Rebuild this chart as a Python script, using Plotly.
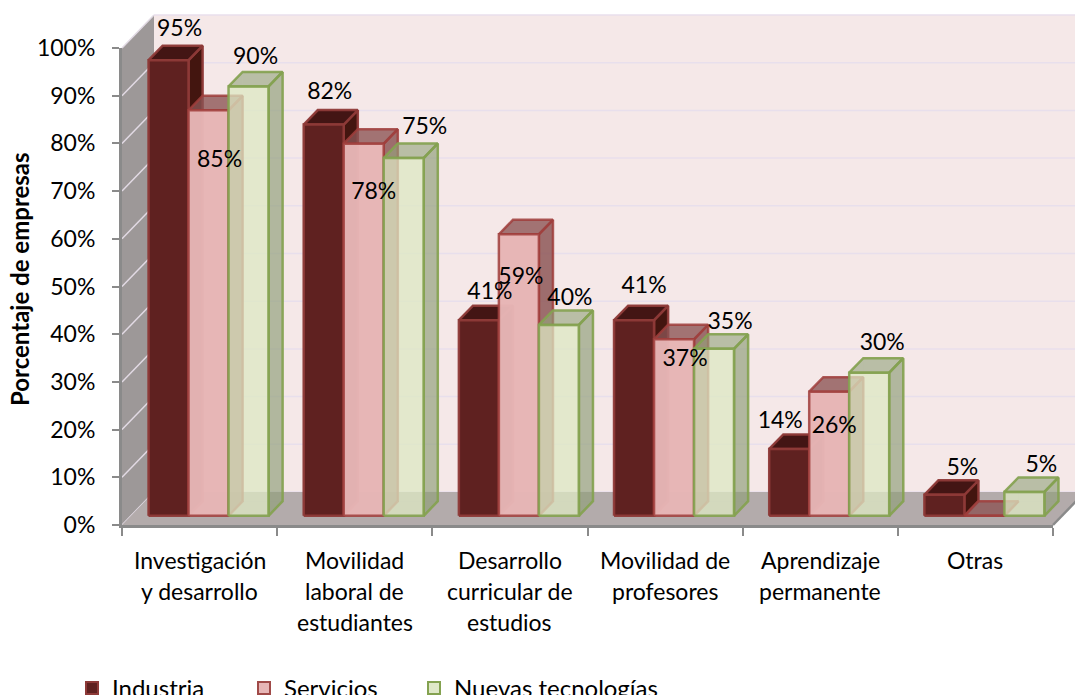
import plotly.graph_objects as go

# ---------- data ----------
categories = [
    ["Investigación", "y desarrollo"],
    ["Movilidad", "laboral de", "estudiantes"],
    ["Desarrollo", "curricular de", "estudios"],
    ["Movilidad de", "profesores"],
    ["Aprendizaje", "permanente"],
    ["Otras"],
]
series_names = ["Industria", "Servicios", "Nuevas tecnologías"]
industria = [95.5, 82, 41, 41, 14, 4.4]
servicios = [85, 78, 59, 37, 26, 0]
nuevas = [90, 75, 40, 35, 30, 5]
labels_industria = ["95%", "82%", "41%", "41%", "14%", "5%"]
labels_servicios = ["85%", "78%", "59%", "37%", "26%", ""]
labels_nuevas = ["90%", "75%", "40%", "35%", "30%", "5%"]
y_ticks = [0, 10, 20, 30, 40, 50, 60, 70, 80, 90, 100]

# ---------- geometry of the pseudo 3D projection ----------
W, H = 1075, 695
X0, X1, Y0, Y100 = 122, 1053, 525, 48
PX_X = (X1 - X0) / 6
PX_Y = (Y0 - Y100) / 100
DEPTH_X = 32 / PX_X
DEPTH_Y = 33 / PX_Y
BAR_W = 40 / PX_X
D_FRONT, D_BACK = 0.28, 0.72
FONT = "Lato"

# label nudges in pixels from the bar's front top centre
nudge_industria = [(11, -30), (6, -31), (11, -27), (10, -33), (-9, -27), (18, -26)]
nudge_servicios = [(11, 51), (10, 50), (2, 44), (11, 21), (5, 36), (0, 0)]
nudge_nuevas = [(7, -28), (21, -30), (11, -26), (16, -26), (13, -28), (17, -26)]
legend_left = [72, 244, 414]

styles = [
    dict(front="#5F2120", side="#43150F", top="#431514", back="#43150F",
         line="rgba(142,58,56,0.95)", marker="#5F2120", edge="#8E3A38"),
    dict(front="rgba(231,182,182,0.97)", side="rgba(140,85,85,0.78)", top="rgba(140,85,85,0.72)",
         back="rgba(140,85,85,0.25)", line="rgba(160,62,60,0.85)", marker="#E7B6B6", edge="#A04A48"),
    dict(front="rgba(226,236,200,0.62)", side="rgba(125,140,105,0.50)", top="rgba(125,140,105,0.42)",
         back="rgba(200,215,170,0.35)", line="rgba(132,162,80,0.92)", marker="#DFE8C8", edge="#84A250"),
]


def proj(x, v, d):
    return x + d * DEPTH_X, v + d * DEPTH_Y


def poly(points, fill, line=None, width=0):
    xs = [p[0] for p in points] + [points[0][0]]
    ys = [p[1] for p in points] + [points[0][1]]
    return go.Scatter(
        x=xs, y=ys, mode="lines", fill="toself", fillcolor=fill,
        line=dict(color=line or "rgba(0,0,0,0)", width=width),
        hoverinfo="skip", showlegend=False,
    )


def seg(p, q, color, width):
    return go.Scatter(
        x=[p[0], q[0]], y=[p[1], q[1]], mode="lines", line=dict(color=color, width=width),
        hoverinfo="skip", showlegend=False,
    )


fig = go.Figure()
XL, XR = -0.5, 5.5

# back wall
fig.add_trace(poly([proj(XL, 0, 1), proj(XR, 0, 1), proj(XR, 100, 1), proj(XL, 100, 1)], "#F5E8E8"))
# left wall
fig.add_trace(poly([proj(XL, 0, 0), proj(XL, 100, 0), proj(XL, 100, 1), proj(XL, 0, 1)], "#9D9898"))
# gridlines
for t in y_ticks:
    fig.add_trace(seg(proj(XL, t, 1), proj(XR, t, 1), "#E8DFEC", 1.5))
    fig.add_trace(seg(proj(XL, t, 0), proj(XL, t, 1), "#E2DAE4", 1.5))
# floor
fig.add_trace(poly([proj(XL, 0, 0), proj(XR, 0, 0), proj(XR, 0, 1), proj(XL, 0, 1)], "#B3ABAB"))
fig.add_trace(seg(proj(XR, 0, 0), proj(XR, 0, 1), "#8A8A8A", 2.5))

# bars
all_values = [industria, servicios, nuevas]
all_labels = [labels_industria, labels_servicios, labels_nuevas]
all_nudges = [nudge_industria, nudge_servicios, nudge_nuevas]
for i in range(len(categories)):
    for s, values in enumerate(all_values):
        v = values[i]
        st = styles[s]
        l = i - 1.5 * BAR_W + s * BAR_W
        r = l + BAR_W
        lw = 2.5
        a = proj
        # hidden faces first so that the translucent boxes show them
        fig.add_trace(poly([a(l, 0, D_BACK), a(r, 0, D_BACK), a(r, v, D_BACK), a(l, v, D_BACK)], st["back"]))
        fig.add_trace(poly([a(l, 0, D_FRONT), a(l, 0, D_BACK), a(l, v, D_BACK), a(l, v, D_FRONT)], st["back"]))
        fig.add_trace(poly([a(l, 0, D_FRONT), a(r, 0, D_FRONT), a(r, 0, D_BACK), a(l, 0, D_BACK)], st["back"]))
        # visible faces
        fig.add_trace(poly([a(r, 0, D_FRONT), a(r, 0, D_BACK), a(r, v, D_BACK), a(r, v, D_FRONT)], st["side"], st["line"], lw))
        fig.add_trace(poly([a(l, v, D_FRONT), a(r, v, D_FRONT), a(r, v, D_BACK), a(l, v, D_BACK)], st["top"], st["line"], lw))
        fig.add_trace(poly([a(l, 0, D_FRONT), a(r, 0, D_FRONT), a(r, v, D_FRONT), a(l, v, D_FRONT)], st["front"], st["line"], lw))

# data labels
for s, values in enumerate(all_values):
    xs, ys, ts = [], [], []
    for i, v in enumerate(values):
        l = i - 1.5 * BAR_W + s * BAR_W
        cx, top = proj(l + BAR_W / 2, v, D_FRONT)
        nx, ny = all_nudges[s][i]
        xs.append(cx + nx / PX_X)
        ys.append(top - ny / PX_Y)
        ts.append(all_labels[s][i])
    fig.add_trace(go.Scatter(
        x=xs, y=ys, text=ts, mode="text", textposition="middle center",
        textfont=dict(family=FONT, size=23, color="#000000"),
        hoverinfo="skip", showlegend=False,
    ))

# legend entries, one legend each so that every entry can sit at its own position
legend_ids = ["legend", "legend2", "legend3"]
for s, name in enumerate(series_names):
    fig.add_trace(go.Scatter(
        x=[None], y=[None], mode="markers", name=name, legend=legend_ids[s], showlegend=True,
        marker=dict(symbol="square", size=13, color=styles[s]["marker"],
                    line=dict(color=styles[s]["edge"], width=2)),
    ))

# invisible trace that keeps the visible axis pair alive
fig.add_trace(go.Scatter(x=[None], y=[None], xaxis="x2", yaxis="y2", mode="markers",
                         showlegend=False, hoverinfo="skip"))

# category labels, one annotation per line to keep the wider line pitch
annotations = []
for i, lines in enumerate(categories):
    for k, text in enumerate(lines):
        annotations.append(dict(
            x=i, xref="x2", y=(H - (560 + k * 31)) / H, yref="paper", text=text,
            showarrow=False, xanchor="center", yanchor="middle",
            font=dict(family=FONT, size=23, color="#000000"),
        ))
annotations.append(dict(
    x=19 / W, xref="paper", y=(H - 279) / H, yref="paper", text="<b>Porcentaje de empresas</b>",
    textangle=-90, showarrow=False, xanchor="center", yanchor="middle",
    font=dict(family=FONT, size=24, color="#000000"),
))

legend_layouts = {}
for s, lid in enumerate(legend_ids):
    legend_layouts[lid] = dict(
        orientation="h", x=legend_left[s] / W, y=(H - 666) / H, xanchor="left", yanchor="top",
        itemsizing="constant", font=dict(family=FONT, size=24, color="#000000"),
        bgcolor="rgba(0,0,0,0)",
    )

fig.update_layout(
    width=W, height=H, autosize=False,
    margin=dict(l=0, r=0, t=0, b=0, autoexpand=False),
    paper_bgcolor="#FFFFFF", plot_bgcolor="rgba(0,0,0,0)",
    showlegend=True,
    # full-page axes carrying the projected marks
    xaxis=dict(domain=[0, 1], range=[XL - X0 / PX_X, XR + (W - X1) / PX_X], visible=False),
    yaxis=dict(domain=[0, 1], range=[(Y0 - H) / PX_Y, Y0 / PX_Y], visible=False),
    # visible axes at the chart's front edge
    xaxis2=dict(
        domain=[X0 / W, X1 / W], range=[XL, XR], showgrid=False, zeroline=False, anchor="y2",
        showline=True, linecolor="#8A8A8A", linewidth=3,
        tickmode="array", tickvals=[-0.5, 0.5, 1.5, 2.5, 3.5, 4.5, 5.5],
        ticktext=[""] * 7, ticks="outside", ticklen=8, tickcolor="#8A8A8A", tickwidth=1.5,
    ),
    yaxis2=dict(
        domain=[(H - Y0) / H, (H - Y100) / H], range=[0, 100], showgrid=False, zeroline=False,
        anchor="x2", showline=True, linecolor="#8A8A8A", linewidth=3,
        tickmode="array", tickvals=y_ticks, ticktext=[f"{t}%" for t in y_ticks],
        ticks="outside", ticklen=7, tickcolor="#8A8A8A", tickwidth=1.5,
        tickfont=dict(family=FONT, size=23, color="#000000"), ticklabelstandoff=12,
    ),
    annotations=annotations,
    **legend_layouts,
)

fig.write_html(
    "out.html",
    config={"displayModeBar": False},
    post_script="document.body.style.margin='0';document.body.style.overflow='hidden';",
)
